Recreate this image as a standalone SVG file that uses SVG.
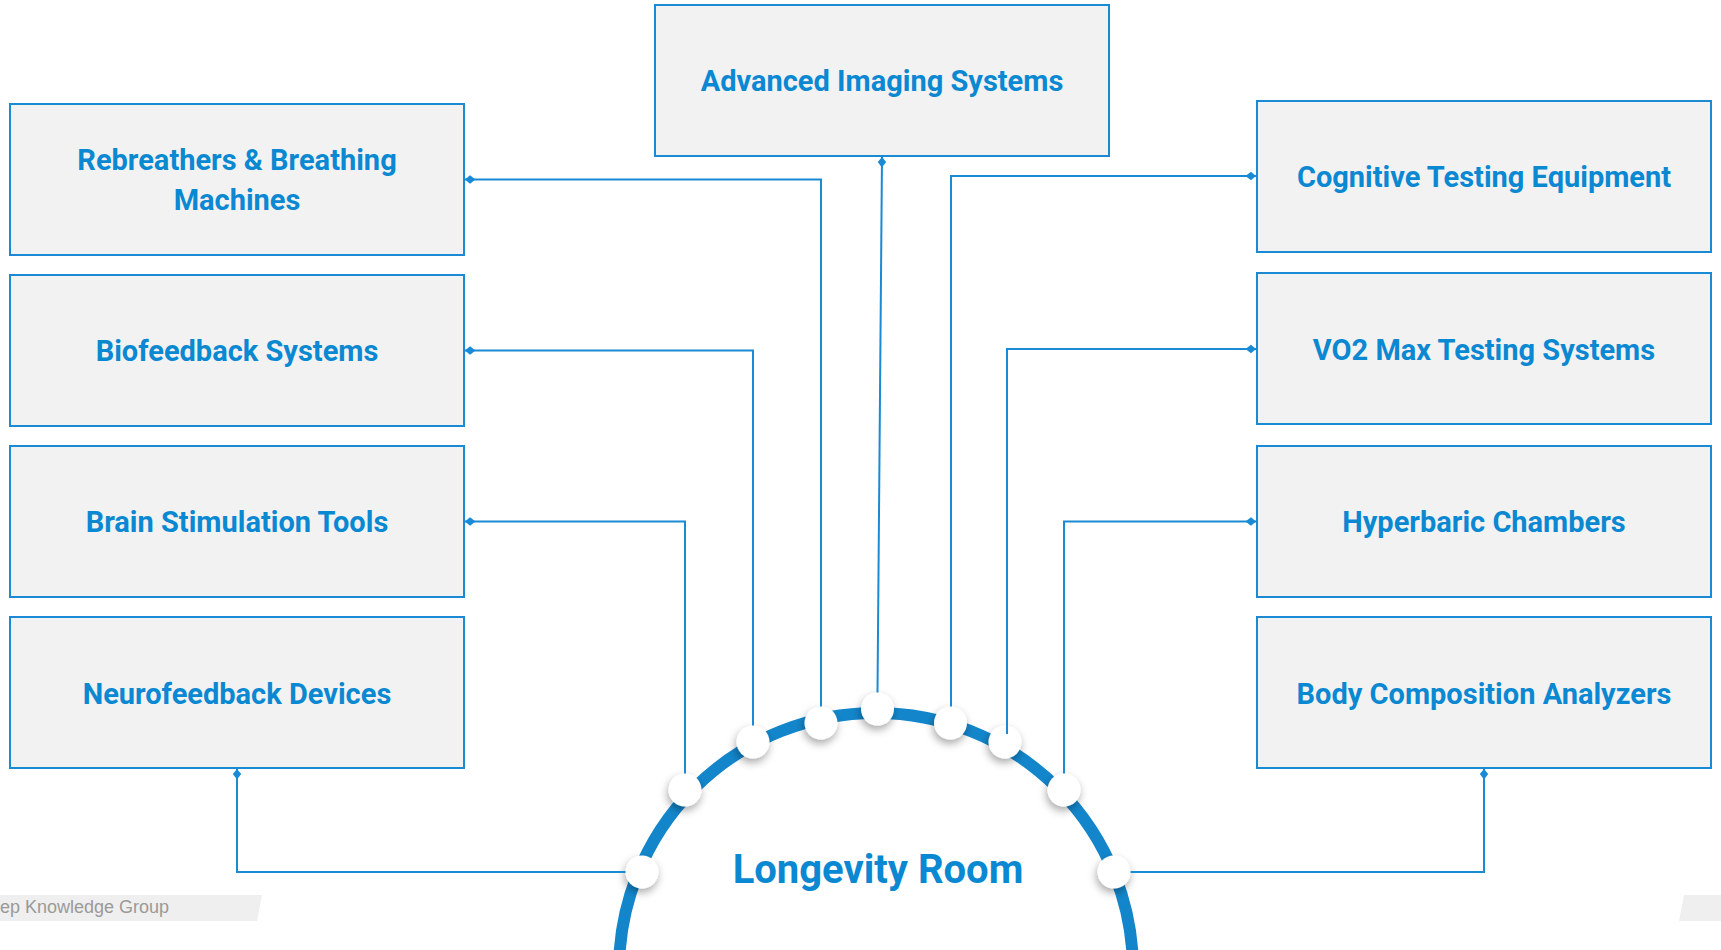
<svg xmlns="http://www.w3.org/2000/svg" width="1721" height="950" viewBox="0 0 1721 950">
  <style>
    .box rect { fill: #f2f2f2; stroke: #1a8ad4; stroke-width: 2; }
    .box text { font-family: Roboto, "Noto Sans", sans-serif; font-weight: 700; font-size: 29px; fill: #0b88d2; text-anchor: middle; }
    .link { fill: none; stroke: #1a8ad4; stroke-width: 2; marker-start: url(#dia); }
    .port { fill: #ffffff; filter: url(#soft); }
    .hub-title { font-family: Roboto, "Noto Sans", sans-serif; font-weight: 700; font-size: 40px; fill: #0b88d2; text-anchor: middle; }
    .footer { font-family: "Liberation Sans", Arial, sans-serif; font-size: 18px; fill: #9a9a9a; }
  </style>
  <defs>
    <marker id="dia" markerUnits="userSpaceOnUse" markerWidth="12" markerHeight="10" refX="0" refY="5" orient="auto" viewBox="0 0 12 10">
      <path d="M0,5 L5,0.8 L10.5,5 L5,9.2 Z" fill="#1a8ad4"/>
    </marker>
    <filter id="soft" x="-60%" y="-60%" width="220%" height="220%">
      <feDropShadow dx="-1" dy="4" stdDeviation="4.5" flood-color="#000000" flood-opacity="0.35"/>
    </filter>
  </defs>

  <rect width="1721" height="950" fill="#ffffff"/>

  <!-- footer bands -->
  <polygon points="0,895 262,895 257,921 0,921" fill="#efefef"/>
  <polygon points="1684,895 1721,895 1721,921 1679,921" fill="#efefef"/>
  <text class="footer" x="0" y="913">ep Knowledge Group</text>

  <!-- central hub -->
  <g id="hub">
    <circle cx="876" cy="970" r="257" fill="#ffffff" stroke="#1386cb" stroke-width="12"/>
    <text class="hub-title" x="878" y="883">Longevity Room</text>
  </g>

  <!-- left column -->
  <g id="rebreathers" class="box">
    <rect x="10" y="104" width="454" height="151"/>
    <text x="237" y="170">Rebreathers &amp; Breathing</text>
    <text x="237" y="209.5">Machines</text>
  </g>
  <g id="biofeedback" class="box">
    <rect x="10" y="275" width="454" height="151"/>
    <text x="237" y="361">Biofeedback Systems</text>
  </g>
  <g id="brain-stimulation" class="box">
    <rect x="10" y="446" width="454" height="151"/>
    <text x="237" y="532">Brain Stimulation Tools</text>
  </g>
  <g id="neurofeedback" class="box">
    <rect x="10" y="617" width="454" height="151"/>
    <text x="237" y="703.5">Neurofeedback Devices</text>
  </g>

  <!-- top -->
  <g id="imaging" class="box">
    <rect x="655" y="5" width="454" height="151"/>
    <text x="882" y="91">Advanced Imaging Systems</text>
  </g>

  <!-- right column -->
  <g id="cognitive" class="box">
    <rect x="1257" y="101" width="454" height="151"/>
    <text x="1484" y="187">Cognitive Testing Equipment</text>
  </g>
  <g id="vo2max" class="box">
    <rect x="1257" y="273" width="454" height="151"/>
    <text x="1484" y="359.5">VO2 Max Testing Systems</text>
  </g>
  <g id="hyperbaric" class="box">
    <rect x="1257" y="446" width="454" height="151"/>
    <text x="1484" y="532">Hyperbaric Chambers</text>
  </g>
  <g id="body-composition" class="box">
    <rect x="1257" y="617" width="454" height="151"/>
    <text x="1484" y="703.5">Body Composition Analyzers</text>
  </g>

  <!-- ports on the hub ring -->
  <g id="ports">
    <circle class="port" cx="642" cy="872" r="16.5"/>
    <circle class="port" cx="685" cy="790" r="16.5"/>
    <circle class="port" cx="753" cy="742" r="16.5"/>
    <circle class="port" cx="821" cy="723" r="16.5"/>
    <circle class="port" cx="877.5" cy="709" r="16.5"/>
    <circle class="port" cx="950.5" cy="723" r="16.5"/>
    <circle class="port" cx="1005" cy="742" r="16.5"/>
    <circle class="port" cx="1064" cy="790" r="16.5"/>
    <circle class="port" cx="1114" cy="872" r="16.5"/>
  </g>

  <!-- connectors -->
  <g id="connectors">
    <path class="link" d="M465,179.5 H821 V706.5"/>
    <path class="link" d="M465,350.5 H753 V725.5"/>
    <path class="link" d="M465,521.5 H685 V773.5"/>
    <path class="link" d="M237,769 V872 H625.5"/>
    <path class="link" d="M882,157 L877.5,692.5"/>
    <path class="link" d="M1256,176 H951 V706.5"/>
    <path class="link" d="M1256,349 H1007 V734"/>
    <path class="link" d="M1256,521.5 H1064 V773.5"/>
    <path class="link" d="M1484,769 V872 H1130.5"/>
  </g>
</svg>
